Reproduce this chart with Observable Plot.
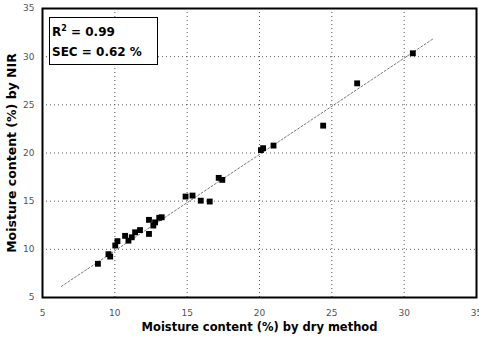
<!DOCTYPE html>
<html><head><meta charset="utf-8">
<script src="https://cdn.jsdelivr.net/npm/d3@7"></script>
<script src="https://cdn.jsdelivr.net/npm/@observablehq/plot@0.6"></script>
<style>
body{margin:0;background:#fff;}
#wrap{position:relative;width:479px;height:340px;}
#box{position:absolute;left:49px;top:17px;width:109px;height:48px;border:1.5px solid #000;background:#fff;
 font-family:"DejaVu Sans",sans-serif;font-size:12px;font-weight:bold;line-height:20px;padding-left:2px;box-sizing:border-box;padding-top:4px;}
#box sup{font-size:8px;line-height:0;}
</style></head>
<body><div id="wrap"><div id="box">R<sup>2</sup> = 0.99<br>SEC = 0.62 %</div></div>
<script>
const dryMethod = [8.83,9.56,9.68,10.03,10.18,10.71,10.94,11.17,11.4,11.74,12.36,12.36,12.66,12.78,13.07,13.24,14.89,15.37,15.94,16.56,17.18,17.43,20.1,20.25,20.97,24.4,26.75,30.6];
const nirValues = [8.5,9.5,9.25,10.4,10.85,11.4,10.9,11.25,11.77,12.0,13.06,11.6,12.47,12.8,13.27,13.33,15.48,15.58,15.05,14.96,17.42,17.21,20.3,20.5,20.77,22.84,27.23,30.35];
const fitX = [6.3, 32];
const fitY = [6.15, 31.85];
const ticks = [5,10,15,20,25,30,35];
const xTitle = "Moisture content (%) by dry method";
const yTitle = "Moisture content (%) by NIR";

const pts = dryMethod.map((d,i)=>({x:d,y:nirValues[i]}));
const fit = fitX.map((d,i)=>({x:d,y:fitY[i]}));

const chart = Plot.plot({
  width:479, height:340,
  marginLeft:42, marginRight:3, marginTop:8, marginBottom:43,
  style:{fontFamily:"DejaVu Sans, sans-serif", fontSize:"9px", color:"#555", background:"#fff"},
  x:{domain:[5,35], ticks, tickSize:0, tickPadding:12, label:null},
  y:{domain:[5,35], ticks, tickSize:0, tickPadding:8, label:null},
  marks:[
    Plot.gridX(ticks,{stroke:"#333", strokeOpacity:0.8, strokeDasharray:"1,3"}),
    Plot.gridY(ticks,{stroke:"#333", strokeOpacity:0.8, strokeDasharray:"1,3"}),
    Plot.line(fit,{x:"x",y:"y",stroke:"#555",strokeWidth:0.8,strokeDasharray:"2,2"}),
    Plot.dot(pts,{x:"x",y:"y",symbol:"square",r:3.3,fill:"#000",stroke:"none"}),
    Plot.frame({stroke:"#000",strokeWidth:2}),
    Plot.text([xTitle],{frameAnchor:"bottom",dy:33,text:d=>d,fontSize:11.5,fontWeight:"bold",fill:"#000"}),
    Plot.text([yTitle],{frameAnchor:"left",textAnchor:"middle",dx:-31,rotate:-90,text:d=>d,fontSize:12.5,fontWeight:"bold",fill:"#000"})
  ]
});
document.getElementById("wrap").prepend(chart);
chart.style.position="absolute";chart.style.left="0";chart.style.top="0";
</script></body></html>
